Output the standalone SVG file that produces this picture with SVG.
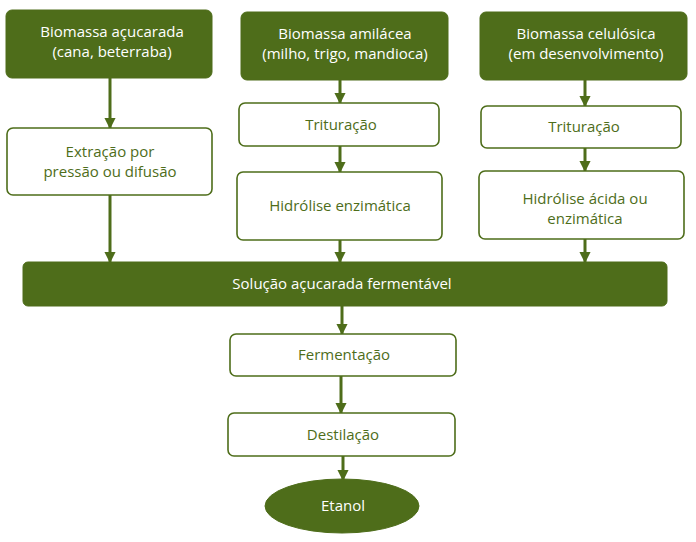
<svg xmlns="http://www.w3.org/2000/svg" width="696" height="542" viewBox="0 0 696 542">
<defs>
<style>
.dark{fill:#4e6d1a;stroke:#4e6d1a;stroke-width:1}
.light{fill:#fff;stroke:#4e6d1a;stroke-width:1.6}
text{font-family:"Open Sans","Noto Sans","DejaVu Sans",sans-serif;font-size:15px;text-anchor:middle}
.w{fill:#fff}
.g{fill:#4e6d1a}
.c{stroke:#4e6d1a;stroke-width:3;fill:none;marker-end:url(#ah)}
</style>
<marker id="ah" viewBox="0 0 10 10" refX="9" refY="5" markerWidth="3.8" markerHeight="3.8" orient="auto" markerUnits="strokeWidth">
<path d="M0,0 L10,5 L0,10 z" fill="#4e6d1a"/>
</marker>
</defs>
<rect width="696" height="542" fill="#fff"/>
<g id="connectors">
<line class="c" x1="110" y1="78" x2="110" y2="128"/>
<line class="c" x1="340" y1="80" x2="340" y2="103"/>
<line class="c" x1="585" y1="80" x2="585" y2="106"/>
<line class="c" x1="340" y1="146" x2="340" y2="172"/>
<line class="c" x1="585" y1="148" x2="585" y2="171"/>
<line class="c" x1="110" y1="195" x2="110" y2="262"/>
<line class="c" x1="340" y1="240" x2="340" y2="262"/>
<line class="c" x1="585" y1="239" x2="585" y2="262"/>
<line class="c" x1="342" y1="306" x2="342" y2="334"/>
<line class="c" x1="341" y1="376" x2="341" y2="413"/>
<line class="c" x1="343" y1="456" x2="343" y2="480"/>
</g>
<g id="n1"><rect class="dark" x="6" y="10" width="206" height="68" rx="6"/>
<text class="w" x="112" y="37">Biomassa açucarada</text><text class="w" x="112" y="57">(cana, beterraba)</text></g>
<g id="n2"><rect class="dark" x="241" y="12" width="207" height="68" rx="6"/>
<text class="w" x="345" y="39">Biomassa amilácea</text><text class="w" x="345" y="59">(milho, trigo, mandioca)</text></g>
<g id="n3"><rect class="dark" x="480" y="12" width="207" height="68" rx="6"/>
<text class="w" x="586" y="39">Biomassa celulósica</text><text class="w" x="586" y="59">(em desenvolvimento)</text></g>
<g id="n4"><rect class="light" x="7" y="128" width="205" height="67" rx="6"/>
<text class="g" x="110" y="157">Extração por</text><text class="g" x="110" y="177">pressão ou difusão</text></g>
<g id="n5"><rect class="light" x="239" y="103" width="200" height="43" rx="6"/>
<text class="g" x="341" y="130">Trituração</text></g>
<g id="n6"><rect class="light" x="237" y="172" width="205" height="68" rx="6"/>
<text class="g" x="340" y="211">Hidrólise enzimática</text></g>
<g id="n7"><rect class="light" x="481" y="106" width="200" height="42" rx="6"/>
<text class="g" x="584" y="132">Trituração</text></g>
<g id="n8"><rect class="light" x="479" y="171" width="205" height="68" rx="6"/>
<text class="g" x="585" y="204">Hidrólise ácida ou</text><text class="g" x="585" y="224">enzimática</text></g>
<g id="n9"><rect class="dark" x="23" y="262" width="644" height="44" rx="5"/>
<text class="w" x="342" y="289">Solução açucarada fermentável</text></g>
<g id="n10"><rect class="light" x="230" y="334" width="226" height="42" rx="6"/>
<text class="g" x="344" y="360">Fermentação</text></g>
<g id="n11"><rect class="light" x="228" y="413" width="227" height="43" rx="6"/>
<text class="g" x="343" y="440">Destilação</text></g>
<g id="n12"><ellipse class="dark" cx="342" cy="506" rx="77" ry="27"/>
<text class="w" x="343" y="511">Etanol</text></g>
</svg>
